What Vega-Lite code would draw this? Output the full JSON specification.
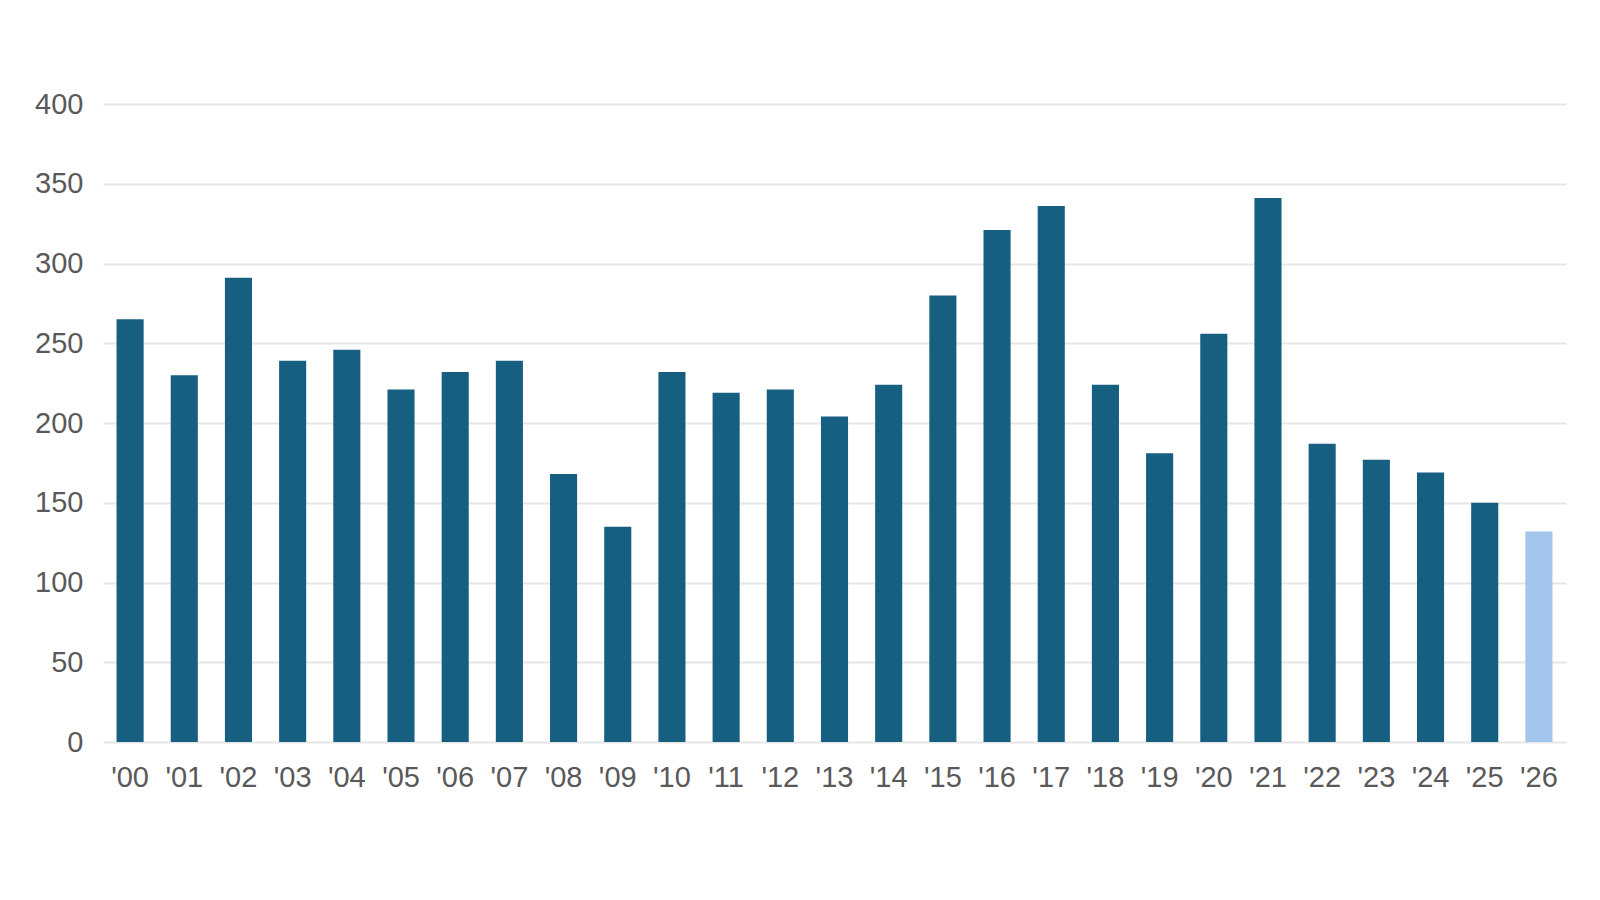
{
  "$schema": "https://vega.github.io/schema/vega-lite/v6.json",
  "width": 1463,
  "height": 638,
  "autosize": {"type": "none"},
  "padding": {"left": 103, "top": 104, "right": 34, "bottom": 158},
  "background": "#ffffff",
  "data": {
    "values": [
      {"year": "'00", "value": 265, "kind": "actual"},
      {"year": "'01", "value": 230, "kind": "actual"},
      {"year": "'02", "value": 291, "kind": "actual"},
      {"year": "'03", "value": 239, "kind": "actual"},
      {"year": "'04", "value": 246, "kind": "actual"},
      {"year": "'05", "value": 221, "kind": "actual"},
      {"year": "'06", "value": 232, "kind": "actual"},
      {"year": "'07", "value": 239, "kind": "actual"},
      {"year": "'08", "value": 168, "kind": "actual"},
      {"year": "'09", "value": 135, "kind": "actual"},
      {"year": "'10", "value": 232, "kind": "actual"},
      {"year": "'11", "value": 219, "kind": "actual"},
      {"year": "'12", "value": 221, "kind": "actual"},
      {"year": "'13", "value": 204, "kind": "actual"},
      {"year": "'14", "value": 224, "kind": "actual"},
      {"year": "'15", "value": 280, "kind": "actual"},
      {"year": "'16", "value": 321, "kind": "actual"},
      {"year": "'17", "value": 336, "kind": "actual"},
      {"year": "'18", "value": 224, "kind": "actual"},
      {"year": "'19", "value": 181, "kind": "actual"},
      {"year": "'20", "value": 256, "kind": "actual"},
      {"year": "'21", "value": 341, "kind": "actual"},
      {"year": "'22", "value": 187, "kind": "actual"},
      {"year": "'23", "value": 177, "kind": "actual"},
      {"year": "'24", "value": 169, "kind": "actual"},
      {"year": "'25", "value": 150, "kind": "actual"},
      {"year": "'26", "value": 132, "kind": "forecast"}
    ]
  },
  "mark": {"type": "bar"},
  "encoding": {
    "x": {
      "field": "year",
      "type": "ordinal",
      "sort": null,
      "scale": {"paddingInner": 0.5, "paddingOuter": 0.25},
      "axis": {
        "title": null,
        "labelAngle": 0,
        "ticks": false,
        "domain": false,
        "grid": false,
        "labelFont": "Liberation Sans",
        "labelFontSize": 29,
        "labelColor": "#595959",
        "labelPadding": 21
      }
    },
    "y": {
      "field": "value",
      "type": "quantitative",
      "scale": {"domain": [0, 400]},
      "axis": {
        "title": null,
        "values": [0, 50, 100, 150, 200, 250, 300, 350, 400],
        "ticks": false,
        "domain": false,
        "grid": true,
        "gridColor": "#e6e6e6",
        "gridWidth": 2,
        "labelFont": "Liberation Sans",
        "labelFontSize": 29,
        "labelColor": "#595959",
        "labelPadding": 20
      }
    },
    "color": {
      "field": "kind",
      "type": "nominal",
      "scale": {"domain": ["actual", "forecast"], "range": ["#175f81", "#a3c4eb"]},
      "legend": null
    }
  },
  "config": {"view": {"stroke": null}}
}
